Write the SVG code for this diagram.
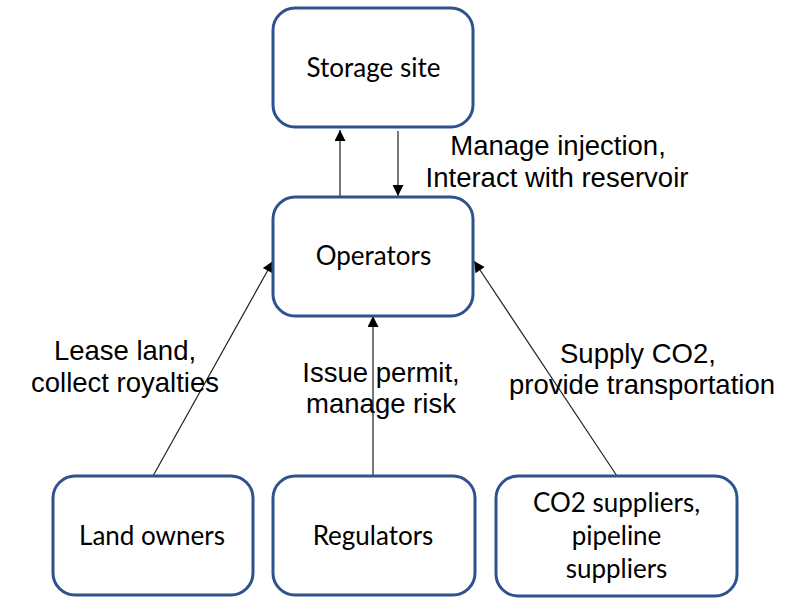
<svg xmlns="http://www.w3.org/2000/svg" width="800" height="600" viewBox="0 0 800 600">
  <style>
    .box { fill: #ffffff; stroke: #2f528f; stroke-width: 3; }
    .btxt { font-family: Lato, "Liberation Sans", sans-serif; font-size: 26px; fill: #000; text-anchor: middle; }
    .lbl { font-family: "Liberation Sans", Arial, sans-serif; font-size: 27.5px; fill: #000; text-anchor: middle; }
    .conn { stroke: #222; stroke-width: 1.2; fill: none; marker-end: url(#ah); }
    .conn2 { stroke: #555; stroke-width: 1.6; fill: none; marker-end: url(#ah); }
  </style>
  <defs>
    <marker id="ah" viewBox="0 0 10 10" refX="10" refY="5" markerWidth="13" markerHeight="11" markerUnits="userSpaceOnUse" orient="auto">
      <path d="M0,0 L10,5 L0,10 z" fill="#000"/>
    </marker>
  </defs>
  <rect width="800" height="600" fill="#ffffff"/>

  <g id="connectors">
    <line class="conn2" x1="340" y1="197" x2="340" y2="130"/>
    <line class="conn2" x1="398" y1="131" x2="398" y2="196"/>
    <line class="conn" x1="153" y1="476" x2="273" y2="261"/>
    <line class="conn2" x1="373" y1="476" x2="373" y2="316"/>
    <line class="conn" x1="617" y1="476" x2="474" y2="261"/>
  </g>

  <g id="node-storage">
    <rect class="box" x="273" y="8" width="200" height="119" rx="22"/>
    <text class="btxt" x="373.5" y="77">Storage site</text>
  </g>
  <g id="node-operators">
    <rect class="box" x="273" y="197" width="200" height="119" rx="22"/>
    <text class="btxt" x="373.5" y="265">Operators</text>
  </g>
  <g id="node-landowners">
    <rect class="box" x="53" y="476" width="200" height="119" rx="22"/>
    <text class="btxt" x="152" y="545">Land owners</text>
  </g>
  <g id="node-regulators">
    <rect class="box" x="273" y="476" width="202" height="119" rx="22"/>
    <text class="btxt" x="373" y="545">Regulators</text>
  </g>
  <g id="node-suppliers">
    <rect class="box" x="496" y="476" width="241" height="120" rx="22"/>
    <text class="btxt" x="616.5" y="512">CO2 suppliers,</text>
    <text class="btxt" x="616.5" y="545">pipeline</text>
    <text class="btxt" x="616.5" y="578">suppliers</text>
  </g>

  <g id="labels">
    <text class="lbl" x="558" y="155">Manage injection,</text>
    <text class="lbl" x="557" y="187">Interact with reservoir</text>
    <text class="lbl" x="125" y="360">Lease land,</text>
    <text class="lbl" x="125" y="392">collect royalties</text>
    <text class="lbl" x="381" y="382">Issue permit,</text>
    <text class="lbl" x="381" y="413">manage risk</text>
    <text class="lbl" x="638" y="363">Supply CO2,</text>
    <text class="lbl" x="642" y="394">provide transportation</text>
  </g>
</svg>
